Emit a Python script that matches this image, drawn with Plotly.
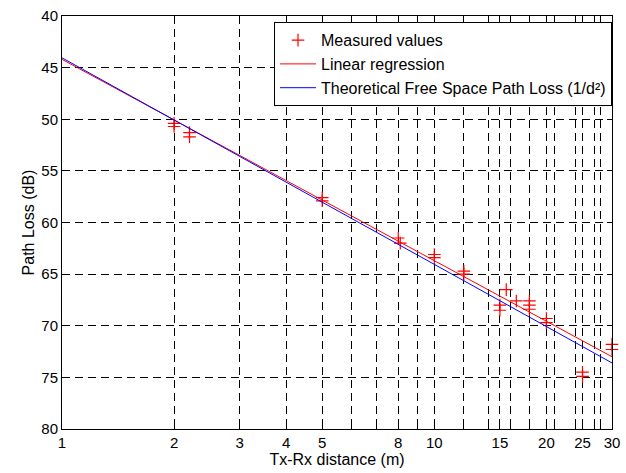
import numpy as np
import plotly.graph_objects as go

# Measured values (distance in m, path loss in dB)
meas_dist = [2, 2, 2.2, 2.2, 5, 5, 8, 8.1, 10, 10, 12, 12, 15, 15, 15.6, 16.6,
             18, 18, 18, 20, 20, 25, 25, 30, 30]
meas_loss = [50.4, 50.7, 51.3, 51.7, 57.6, 57.9, 61.5, 62.0, 63.1, 63.4, 64.7, 65.0,
             68.0, 68.5, 66.5, 67.6, 67.6, 68.0, 68.4, 69.3, 69.7, 74.5, 74.9, 71.8, 72.3]

# Linear regression line
reg_dist = [1, 30]
reg_loss = [44.2, 73.0]

# Theoretical free space path loss line
fs_dist = [1, 30]
fs_loss = [44.05, 73.6]

# x-axis ticks / grid positions and labels
x_tickvals = [1, 2, 3, 4, 5, 6, 7, 8, 9, 10, 12, 14, 15, 16, 18, 20, 21, 24, 25, 27, 28, 30]
x_ticktext = ["1", "2", "3", "4", "5", "", "", "8", "", "10", "", "", "15", "", "", "20",
              "", "", "25", "", "", "30"]
y_tickvals = [40, 45, 50, 55, 60, 65, 70, 75, 80]

FONT = "Liberation Sans, Arial, sans-serif"

fig = go.Figure()
fig.add_trace(go.Scatter(
    x=meas_dist, y=meas_loss, mode="markers", name="Measured values",
    marker=dict(symbol="cross-thin", size=9, color="red",
                line=dict(color="red", width=1.2)),
    cliponaxis=False,
))
fig.add_trace(go.Scatter(
    x=reg_dist, y=reg_loss, mode="lines", name="Linear regression",
    line=dict(color="red", width=1),
))
fig.add_trace(go.Scatter(
    x=fs_dist, y=fs_loss, mode="lines",
    name="Theoretical Free Space Path Loss (1/d²)",
    line=dict(color="blue", width=1),
))

fig.update_layout(
    width=626, height=473,
    margin=dict(l=62, r=6, t=16, b=44),
    paper_bgcolor="white", plot_bgcolor="white",
    font=dict(family=FONT, size=16, color="black"),
    showlegend=True,
    legend=dict(
        x=1.0, y=0.985, xanchor="right", yanchor="top",
        bgcolor="white", bordercolor="black", borderwidth=1,
        font=dict(family=FONT, size=16, color="black"),
        tracegroupgap=0, itemwidth=36,
    ),
)

fig.update_xaxes(
    type="log", range=[0, np.log10(30)], autorange=False,
    tickmode="array", tickvals=x_tickvals, ticktext=x_ticktext,
    ticks="inside", ticklen=5, tickcolor="black", tickwidth=1,
    showline=True, linecolor="black", linewidth=1, mirror="allticks",
    showgrid=True, gridcolor="black", gridwidth=1, griddash="8px,5px",
    zeroline=False, ticklabeloverflow="allow",
    title=dict(text="Tx-Rx distance (m)", standoff=2, font=dict(size=16)),
    tickfont=dict(size=15),
)
fig.update_yaxes(
    range=[80, 40], autorange=False,
    tickmode="array", tickvals=y_tickvals,
    ticks="inside", ticklen=5, tickcolor="black", tickwidth=1,
    showline=True, linecolor="black", linewidth=1, mirror="allticks",
    showgrid=True, gridcolor="black", gridwidth=1, griddash="8px,5px",
    zeroline=False,
    title=dict(text="Path Loss (dB)", standoff=2, font=dict(size=16)),
    tickfont=dict(size=15),
)

fig.write_html("out.html")
